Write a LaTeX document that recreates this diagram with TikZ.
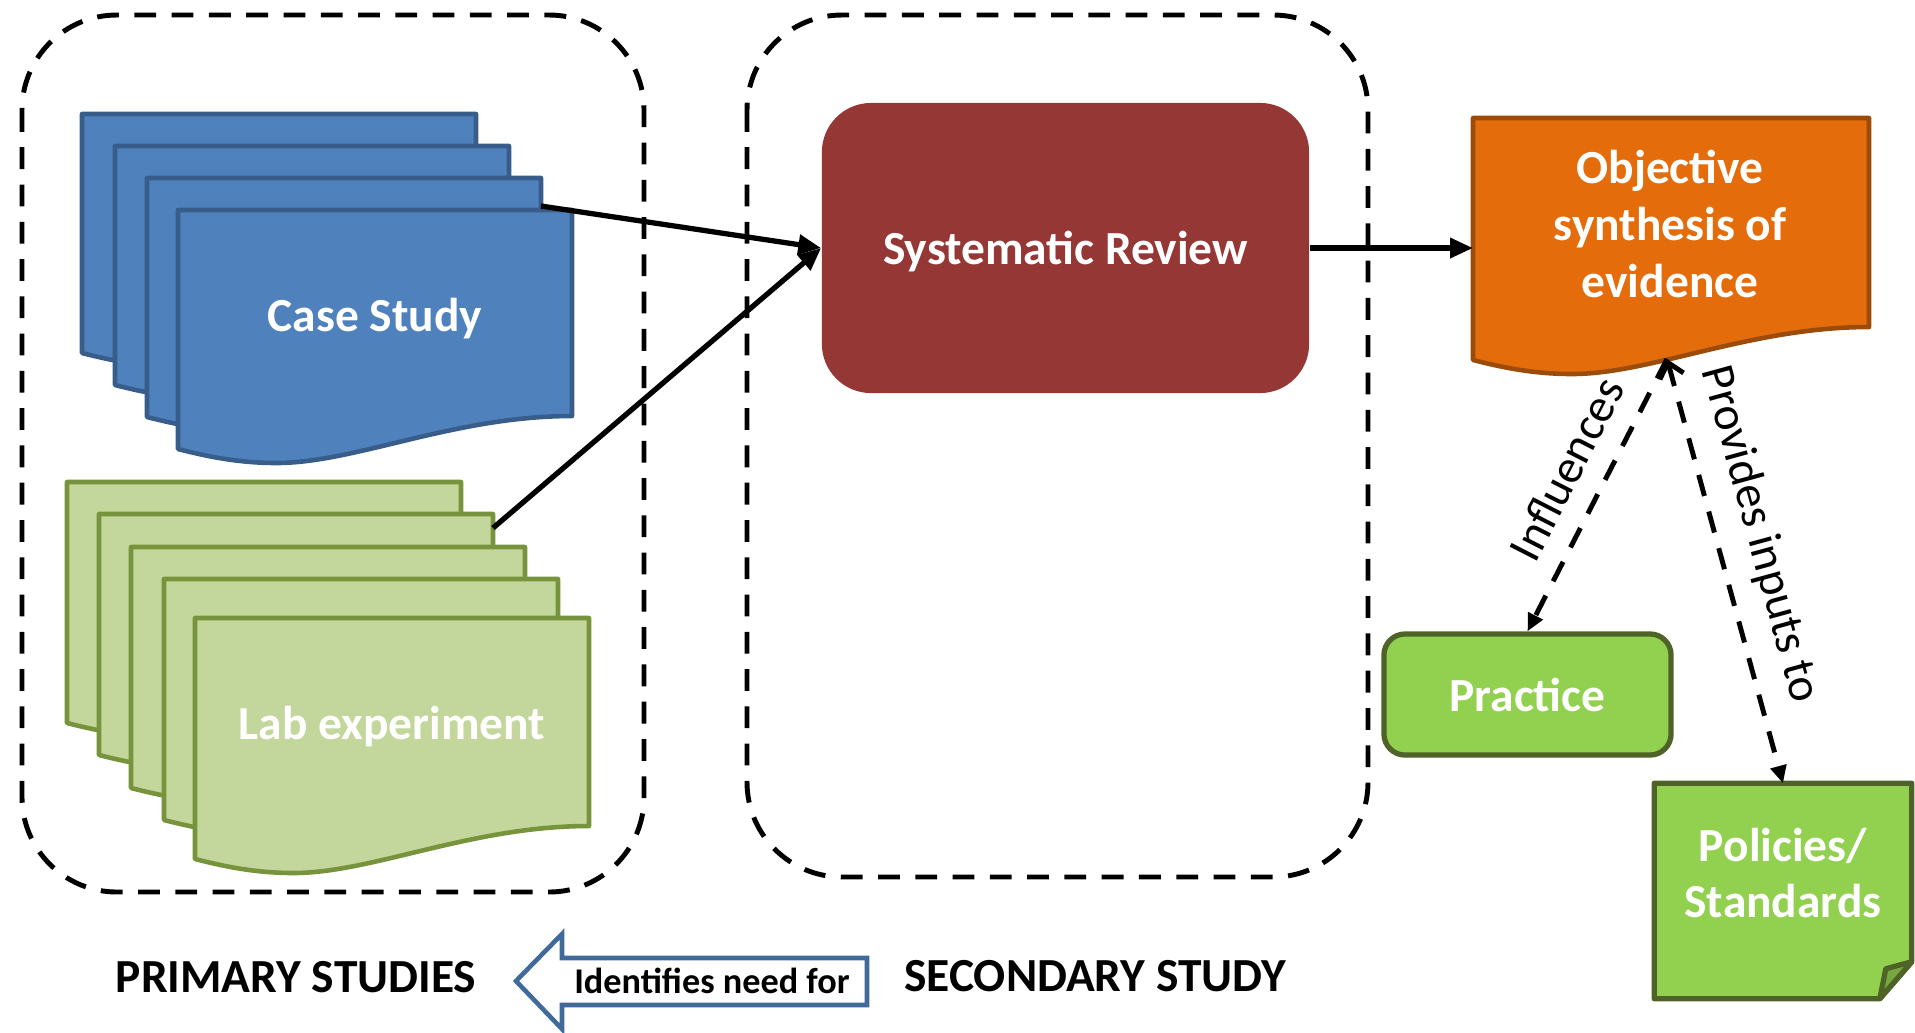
\documentclass[tikz,border=0pt]{standalone}
\usepackage{fontspec}
\setmainfont{Carlito}
\usepackage{xcolor}
\usepackage{tikz}
\usetikzlibrary{arrows.meta}

\definecolor{csfill}{HTML}{4F81BD}
\definecolor{csline}{HTML}{385D8A}
\definecolor{labfill}{HTML}{C3D69B}
\definecolor{labline}{HTML}{77933C}
\definecolor{srfill}{HTML}{953735}
\definecolor{evfill}{HTML}{E46C0A}
\definecolor{evline}{HTML}{9C4C0A}
\definecolor{prfill}{HTML}{92D050}
\definecolor{prline}{HTML}{4F6228}
\definecolor{foldfill}{HTML}{76A83F}
\definecolor{needline}{HTML}{3F6A9A}

\newcommand{\boxfont}{\fontsize{13.5}{16.2}\selectfont\bfseries}
\newcommand{\slopefont}{\fontsize{13.5}{16.2}\selectfont}
\newcommand{\needfont}{\fontsize{10.3}{12.4}\selectfont\bfseries}

% one page of a stack: style, x, y, width, height of the straight part
\newcommand{\studypage}[5]{%
  \begin{scope}[shift={(#2,#3)}]
    \draw[#1] (0,0) -- (#4,0) -- (#4,#5)
      .. controls (0.7*#4,#5) and (0.45*#4,#5+47) .. (0.25*#4,#5+47)
      .. controls (0.15*#4,#5+47) and (0.07*#4,#5+40) .. (0,#5+33) -- cycle;
  \end{scope}}

\tikzset{
  group box/.style={draw=black,line width=1.4pt,dash pattern=on 6.2pt off 4.4pt,rounded corners=27pt},
  case page/.style={draw=csline,fill=csfill,line width=1.3pt,line join=round},
  lab page/.style={draw=labline,fill=labfill,line width=1.3pt,line join=round},
  evid page/.style={draw=evline,fill=evfill,line width=1.3pt,line join=round},
  box text/.style={text=white,font=\boxfont,align=center},
  review box/.style={box text,fill=srfill,rounded corners=14pt,minimum width=4.87cm,minimum height=2.9cm},
  green box/.style={box text,draw=prline,fill=prfill,line width=1.5pt,rounded corners=6pt,minimum width=2.87cm,minimum height=1.21cm},
  link/.style={line width=1.5pt,-{Triangle[length=6.5pt,width=5.5pt]}},
  dash link/.style={line width=1.4pt,dash pattern=on 6.2pt off 4.6pt,-{Triangle[length=5pt,width=4.5pt]}},
  slope label/.style={font=\slopefont,sloped,above=2.5pt},
  study label/.style={font=\boxfont},
}

\begin{document}
\begin{tikzpicture}[x=0.01cm,y=-0.01cm]
  \useasboundingbox (0,0) rectangle (1915,1032);

  % primary and secondary groups
  \draw[group box] (22,15) rectangle (644,892);
  \draw[group box] (747,15) rectangle (1368,877);

  % case study stack
  \studypage{case page}{82}{114}{394}{206}
  \studypage{case page}{115}{146}{394}{206}
  \studypage{case page}{147}{178}{394}{206}
  \studypage{case page}{178}{210}{394}{206}
  \node[box text] (cs) at (375,319) {Case Study};
  \coordinate (cs3e) at (541,206);

  % lab experiment stack
  \studypage{lab page}{67}{482}{394}{208}
  \studypage{lab page}{99}{514}{394}{208}
  \studypage{lab page}{131}{547}{394}{208}
  \studypage{lab page}{164}{579}{394}{208}
  \studypage{lab page}{195}{618}{394}{208}
  \node[box text] (lab) at (392,727) {Lab experiment};
  \coordinate (lab2e) at (493,528);

  \node[review box] (sr) at (1065.5,248) {};
  \node[box text] (srtxt) at (1065.5,252) {Systematic Review};

  % evidence
  \studypage{evid page}{1473}{118}{396}{209}
  \node[box text] (evid) at (1670,224) {Objective\\synthesis of\\evidence};
  \coordinate (evw) at (1473,248);
  \coordinate (evb) at (1667,359);

  \node[green box] (prac) at (1527.5,694.5) {Practice};

  \node[inner sep=0,minimum width=2.56cm,minimum height=2.14cm] (pol) at (1783,891) {};
  \draw[draw=prline,fill=prfill,line width=1.5pt,line join=round] (pol.north west) -- (pol.north east)
    -- ([yshift=0.37cm]pol.south east) -- ([xshift=-0.32cm]pol.south east) -- (pol.south west) -- cycle;
  \draw[draw=prline,fill=foldfill,line width=1.5pt,line join=round] ([xshift=-0.32cm]pol.south east)
    -- ([xshift=-0.26cm,yshift=0.3cm]pol.south east) -- ([yshift=0.37cm]pol.south east) -- cycle;
  \node[box text] (poltxt) at (1783,873) {Policies/\\Standards};

  \draw[link] (cs3e) -- (sr.west);
  \draw[link] (lab2e) -- (sr.west);
  \draw[link] (sr.east) -- (evw);
  \draw[dash link] (evb) -- node[slope label,pos=0.47] {Influences} (prac.north);
  \draw[dash link,{Straight Barb[length=4pt,width=7pt]}-{Triangle[length=5pt,width=4.5pt]}] (evb) -- node[slope label,pos=0.44] {Provides inputs to} (pol.north);

  % bottom labels
  \node[study label] (prim) at (296,977) {PRIMARY STUDIES};
  \node[study label] (sec) at (1095,976) {SECONDARY STUDY};
  \draw[draw=needline,line width=1.3pt,line join=miter] (516,981) -- (562,934) -- (562,958) -- (867,958)
    -- (867,1005) -- (562,1005) -- (562,1029) -- cycle;
  \node[font=\needfont] (need) at (712,981) {Identifies need for};
\end{tikzpicture}
\end{document}
